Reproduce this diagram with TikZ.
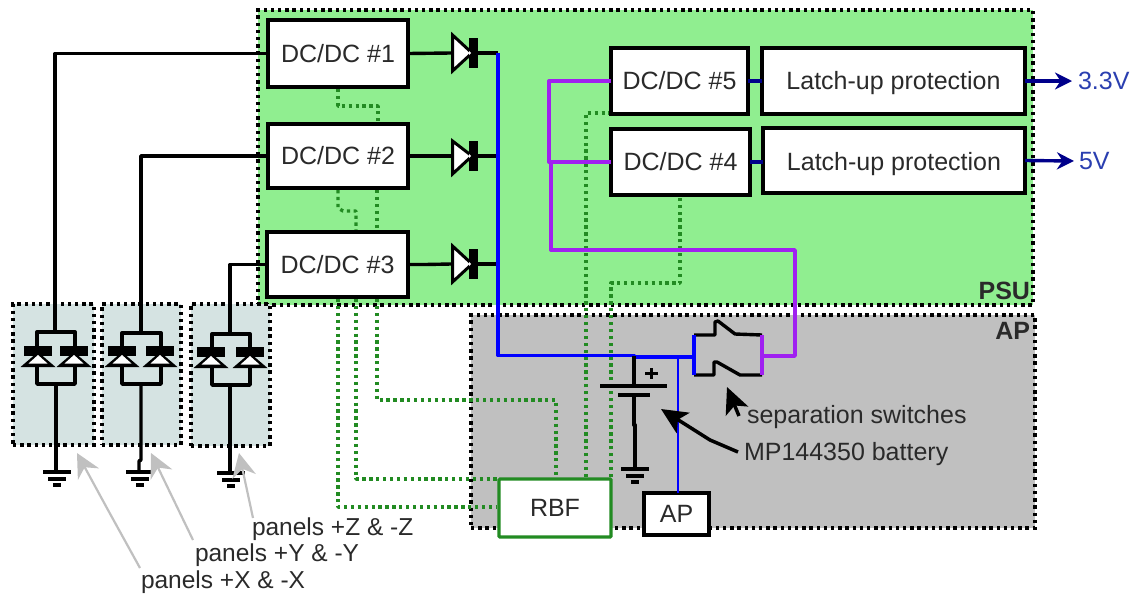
\documentclass[tikz,border=0pt]{standalone}
\usepackage{fontspec}
\setmainfont{Liberation Sans}
\usetikzlibrary{arrows.meta}
\definecolor{psugreen}{HTML}{90EE90}
\definecolor{apgray}{HTML}{C0C0C0}
\definecolor{panelbg}{HTML}{D5E3E2}
\definecolor{sigreen}{HTML}{228B22}
\definecolor{pwire}{HTML}{A020F0}
\definecolor{txt}{HTML}{2A2A2A}
\definecolor{voltblue}{HTML}{2A3FB0}
\definecolor{navyline}{HTML}{00008B}
\newcommand{\bx}[7]{\node[#7,minimum width={(#4-#2)*1pt},minimum height={(#5-#3)*1pt}] (#1) at ({(#2+#4)/2},{(#3+#5)/2}) {#6};}
% panel diode: centre x, top y of bar
\newcommand{\pdiode}[2]{%
  \fill[black] ({#1-14},#2) rectangle ({#1+14},{#2+10});
  \fill[black] (#1,{#2+6}) -- ({#1+17.5},{#2+21}) -- ({#1-17.5},{#2+21}) -- cycle;
  \fill[white] (#1,{#2+9}) -- ({#1+9.5},{#2+17.5}) -- ({#1-9.5},{#2+17.5}) -- cycle;}
% series diode
\newcommand{\sdiode}[5]{%
  \coordinate (#1) at (#2,#3); \coordinate (#1k) at ({#2+27},#3);
  \draw[black,line width=3pt,fill=white,line join=miter] ({#2+1.5},{#3-#4}) -- ({#2+21},#3) -- ({#2+1.5},{#3+#5}) -- cycle;
  \fill[black] ({#2+18},{#3-15}) rectangle ({#2+27},{#3+15});
  \fill[white] ({#2+18},{#3-2}) -- ({#2+20},#3) -- ({#2+18},{#3+2}) -- cycle;}
\newcommand{\gnd}[2]{%
  \draw[wire] ({#1-14},#2) -- ({#1+14},#2);
  \draw[wire] ({#1-9},{#2+7}) -- ({#1+9},{#2+7});
  \draw[wire] ({#1-4},{#2+13}) -- ({#1+4},{#2+13});}
\tikzset{
  x=1pt,y=-1pt,
  every node/.style={font=\fontsize{25}{28}\selectfont,text=txt,inner sep=0pt,outer sep=0pt},
  group/.style={draw=black,line width=3.4pt,dash pattern=on 3.4pt off 3.8pt},
  wire/.style={draw=black,line width=3.4pt,line join=round},
  bluew/.style={draw=blue,line width=3.4pt,line join=round},
  navyw/.style={draw=navyline,line width=3.4pt},
  purw/.style={draw=pwire,line width=3.4pt,line join=round},
  sig/.style={draw=sigreen,line width=3.4pt,dash pattern=on 3.3pt off 3.6pt,line join=round},
  dcbox/.style={draw=black,fill=white,line width=3.6pt},
  rbfbox/.style={draw=sigreen,fill=white,line width=3.2pt,rounded corners=1pt},
  grayarrow/.style={draw=apgray,line width=2.2pt,-{Stealth[length=24pt,width=24pt]}},
  blackarrow/.style={draw=black,line width=3.5pt,-{Stealth[length=26pt,width=24pt,inset=6pt]}},
  txtl/.style={anchor=west},
  panlab/.style={anchor=west,font=\fontsize{24.5}{28}\selectfont},
  grplab/.style={anchor=east,font=\fontsize{25}{28}\selectfont\bfseries},
}
\begin{document}
\begin{tikzpicture}
\useasboundingbox (0,0) rectangle (1134,595);
% groups
\bx{psu}{258}{10}{1033}{305}{}{group,fill=psugreen}
\bx{apg}{471}{315}{1035}{528}{}{group,fill=apgray}
\bx{pX}{13}{304}{94}{445}{}{group,fill=panelbg}
\bx{pY}{102}{304}{181}{445}{}{group,fill=panelbg}
\bx{pZ}{191}{304}{270}{446}{}{group,fill=panelbg}
\node[grplab] (psulab) at (1030,291) {PSU};
\node[grplab] (aplab) at (1030,331) {AP};
% green signal lines
\draw[sig] (338,89) -- (338,106) -- (378,106) -- (378,122);
\draw[sig] (338,190) -- (338,208) -- (343,211) -- (356,211) -- (356,230);
\draw[sig] (377,190) -- (377,230);
\draw[sig] (338,299) -- (338,507) -- (497,507);
\draw[sig] (356,299) -- (356,479) -- (497,479);
\draw[sig] (377,299) -- (377,400) -- (556,400) -- (556,477);
\draw[sig] (586,477) -- (586,113) -- (609,113);
\draw[sig] (611,477) -- (611,283) -- (680,283) -- (680,197);
% boxes
\bx{d1}{268}{20}{408}{87}{DC/DC \#1}{dcbox}
\bx{d2}{268}{124}{408}{188}{DC/DC \#2}{dcbox}
\bx{d3}{267}{232}{408}{297}{DC/DC \#3}{dcbox}
\bx{d5}{611}{48}{748}{114}{DC/DC \#5}{dcbox}
\bx{d4}{611}{129}{750}{195}{DC/DC \#4}{dcbox}
\bx{l1}{762}{48}{1025}{114}{\raisebox{-8pt}[0pt][0pt]{Latch-up protection}}{dcbox}
\bx{l2}{763}{128}{1025}{193}{\raisebox{-9.5pt}[0pt][0pt]{Latch-up protection}}{dcbox}
\bx{rbf}{499}{479}{611}{537}{RBF}{rbfbox}
\bx{apb}{644}{493}{709}{535}{AP}{dcbox}
% black wires
\coordinate (a1) at (451,53); \coordinate (a2) at (451,156); \coordinate (a3) at (451,264);
\draw[wire] (d1.east) -- (a1);
\draw[wire] (d2.east) -- (a2);
\draw[wire] (d3.east) -- (425,264.5) -- (a3);
% series diodes
\sdiode{a1}{451}{53}{18}{18}
\sdiode{a2}{451}{156}{15}{18}
\sdiode{a3}{451}{264}{18}{18}
\coordinate (busA) at (498,53);
\coordinate (busB) at (498,156);
\coordinate (busC) at (498,264);
\draw[wire] (a1k) -- (busA);
\draw[wire] (a2k) -- (busB);
\draw[wire] (a3k) -- (busC);
% panel strings
\coordinate (t1) at (55,332); \coordinate (t2) at (141,332); \coordinate (t3) at (230,333);
\draw[wire] (d1.west) -| (t1);
\draw[wire] (d2.west) -| (t2);
\draw[wire] (d3.west) -| (t3);
\draw[wire] (37,384) -- (37,332) -- (75,332) -- (75,384) -- cycle;
\draw[wire] (122,384) -- (122,333) -- (161,333) -- (161,384) -- cycle;
\draw[wire] (212,385) -- (212,334) -- (250,334) -- (250,385) -- cycle;
\pdiode{38}{346}\pdiode{74}{346}
\pdiode{122}{346}\pdiode{160}{346}
\pdiode{211}{347}\pdiode{250}{347}
\coordinate (g1) at (56,472); \coordinate (g2) at (139,472); \coordinate (g3) at (230,473);
\draw[wire] (56,384) -- (g1);
\draw[wire] (141,384) -- (141,460) -- (139,461) -- (g2);
\draw[wire] (230,385) -- (g3);
\gnd{57}{472}\gnd{140}{472}\gnd{231}{473}
% bus
\coordinate (busJ) at (634,355.5);
\coordinate (swL) at (694,357);
\coordinate (swR) at (762,356);
\draw[bluew] (busA) -- (498,355.5) -- (busJ) -- (634,357) -- (swL);
\draw[blue,line width=2.2pt] (678,357) -- (678,493);
\draw[navyw] (d5.east) -- (l1.west|-d5.east);
\draw[navyw] (d4.east) -- (l2.west|-d4.east);
% switch
\draw[wire] (694,335) -- (715,335) -- (715,322) -- (718,321) -- (735,334) -- (762,335);
\draw[wire] (694,375) -- (714,375) -- (714,362) -- (717,362) -- (740,375) -- (762,375);
\draw[bluew] (694,335) -- (694,375);
\draw[purw] (762,335) -- (762,375);
% purple
\draw[purw] (swR) -- (795,356) -- (795,250) -- (551,250) -- (551,162);
\draw[purw] (d5.west) -- (549,81) -- (549,162) -- (d4.west);
% battery
\coordinate (bt) at (634,356);
\draw[wire] (bt) -- (634,386);
\draw[wire] (600,386) -- (667,386);
\draw[wire] (618,395) -- (650,395);
\draw[wire] (634,395) -- (634,425) -- (635,425) -- (635,469);
\gnd{635}{469}
\draw[black,line width=2.5pt] (645,373.5) -- (658,373.5) (651.5,368) -- (651.5,379);
% outputs
\coordinate (o1) at (1072,81);
\coordinate (o2) at (1074,161);
\draw[navyw,-{Stealth[length=17pt,width=17pt]}] (l1.east) -- (o1);
\draw[navyw,-{Stealth[length=17pt,width=17pt]}] (l2.east) -- (o2);
\node[txtl,text=voltblue] (v33) at (1078,81) {3.3V};
\node[txtl,text=voltblue] (v5) at (1079,161) {5V};
% labels and pointers
\node[txtl] (lsep) at (747,417) {separation switches};
\node[txtl] (lbat) at (744,454) {MP144350 battery};
\draw[blackarrow] (739,416) -- (727,387);
\draw[blackarrow] (738,452) -- (710,440) -- (661,409);
\node[panlab] (lz) at (252,529) {panels +Z \& -Z};
\node[panlab] (ly) at (195,555) {panels +Y \& -Y};
\node[panlab] (lx) at (141,582) {panels +X \& -X};
\draw[grayarrow] (140,568) -- (108,510) -- (77,453);
\draw[grayarrow] (193,540) -- (151,453);
\draw[grayarrow] (253,518) -- (239,453);
\end{tikzpicture}
\end{document}
